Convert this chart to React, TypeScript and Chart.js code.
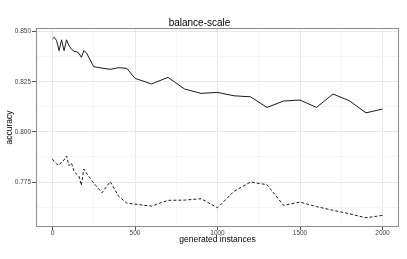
import React, { useEffect, useRef } from "react";
import { Chart, registerables } from "chart.js";

Chart.register(...registerables);

const chartTitle = "balance-scale";
const xTitle = "generated instances";
const yTitle = "accuracy";

const instances = [
  0, 10, 25, 40, 55, 70, 85, 100, 115, 130, 145, 160, 175, 190, 205, 250, 300, 350, 400, 450, 500,
  600, 700, 800, 900, 1000, 1100, 1200, 1300, 1400, 1500, 1600, 1700, 1800, 1900, 2000,
];

const solidSeries = [
  0.8464, 0.8472, 0.8455, 0.8405, 0.8459, 0.8405, 0.8459, 0.843, 0.8412, 0.8402, 0.84, 0.8392,
  0.8372, 0.8405, 0.8395, 0.8325, 0.8318, 0.8312, 0.832, 0.8317, 0.8267, 0.8239, 0.8272, 0.8214,
  0.8192, 0.8197, 0.818, 0.8175, 0.8122, 0.8154, 0.8159, 0.8122, 0.8189, 0.8155, 0.8095, 0.8114,
];

const dashedSeries = [
  0.7864, 0.7852, 0.784, 0.7834, 0.785, 0.786, 0.788, 0.7832, 0.7845, 0.7805, 0.779, 0.778, 0.7734,
  0.7815, 0.7795, 0.7745, 0.7697, 0.7752, 0.768, 0.7645, 0.764, 0.763, 0.7659, 0.766, 0.7667,
  0.7622, 0.7704, 0.775, 0.7737, 0.7634, 0.765, 0.7628, 0.7609, 0.7592, 0.7572, 0.7584,
];

const xMajorTicks = [0, 500, 1000, 1500, 2000];
const xMinorTicks = [250, 750, 1250, 1750];
const yMajorTicks = [0.775, 0.8, 0.825, 0.85];
const yMinorTicks = [0.7625, 0.7875, 0.8125, 0.8375];

const FONT = "'Liberation Sans', Arial, Helvetica, sans-serif";

export default function App() {
  const ref = useRef<HTMLCanvasElement | null>(null);

  useEffect(() => {
    if (!ref.current) return;
    const xMajorSet = new Set(xMajorTicks);
    const yMajorSet = new Set(yMajorTicks);

    const panelBorder = {
      id: "panelBorder",
      afterDatasetsDraw(chart: any) {
        const { ctx, chartArea } = chart;
        ctx.save();
        ctx.strokeStyle = "#8c8c8c";
        ctx.lineWidth = 1;
        ctx.strokeRect(
          Math.round(chartArea.left) + 0.5,
          Math.round(chartArea.top) + 0.5,
          Math.round(chartArea.right - chartArea.left) - 1,
          Math.round(chartArea.bottom - chartArea.top) - 1
        );
        ctx.restore();
      },
    };

    const chart = new Chart(ref.current, {
      type: "line",
      data: {
        datasets: [
          {
            data: instances.map((x, i) => ({ x, y: solidSeries[i] })),
            borderColor: "#1a1a1a",
            borderWidth: 1,
            pointRadius: 0,
            tension: 0,
            fill: false,
          },
          {
            data: instances.map((x, i) => ({ x, y: dashedSeries[i] })),
            borderColor: "#1a1a1a",
            borderWidth: 1,
            borderDash: [3, 2],
            pointRadius: 0,
            tension: 0,
            fill: false,
          },
        ],
      },
      options: {
        animation: false,
        responsive: false,
        devicePixelRatio: 1,
        layout: { padding: { left: 0, right: 8, top: 0, bottom: 0 } },
        plugins: {
          legend: { display: false },
          tooltip: { enabled: false },
          title: {
            display: true,
            text: chartTitle,
            color: "#000",
            font: { family: FONT, size: 10, weight: "normal", lineHeight: 1 },
            padding: { top: 18, bottom: 0 },
          },
        },
        scales: {
          x: {
            type: "linear",
            min: -100,
            max: 2100,
            afterBuildTicks(scale: any) {
              scale.ticks = [...xMajorTicks, ...xMinorTicks]
                .sort((a, b) => a - b)
                .map((v) => ({ value: v }));
            },
            afterFit(scale: any) {
              scale.height = 32;
            },
            ticks: {
              autoSkip: false,
              maxRotation: 0,
              padding: -1,
              color: "#444",
              font: { family: FONT, size: 6.5 },
              callback: (v: any) => (xMajorSet.has(Number(v)) ? String(v) : ""),
            },
            grid: {
              color: (c: any) => (xMajorSet.has(c.tick?.value) ? "#e8e8e8" : "#f5f5f5"),
              tickColor: (c: any) => (xMajorSet.has(c.tick?.value) ? "#555" : "rgba(0,0,0,0)"),
              tickLength: 3,
              lineWidth: 1,
            },
            border: { display: false },
            title: {
              display: true,
              text: xTitle,
              color: "#000",
              font: { family: FONT, size: 8.5 },
              padding: { top: 0, bottom: 14.4 },
            },
          },
          y: {
            type: "linear",
            min: 0.7526,
            max: 0.8518,
            afterBuildTicks(scale: any) {
              scale.ticks = [...yMajorTicks, ...yMinorTicks]
                .sort((a, b) => a - b)
                .map((v) => ({ value: v }));
            },
            afterFit(scale: any) {
              scale.width = 36;
            },
            ticks: {
              autoSkip: false,
              padding: 1,
              color: "#444",
              font: { family: FONT, size: 6.5 },
              callback: (v: any) => (yMajorSet.has(Number(v)) ? Number(v).toFixed(3) : ""),
            },
            grid: {
              color: (c: any) => (yMajorSet.has(c.tick?.value) ? "#e8e8e8" : "#f5f5f5"),
              tickColor: (c: any) => (yMajorSet.has(c.tick?.value) ? "#555" : "rgba(0,0,0,0)"),
              tickLength: 4,
              lineWidth: 1,
            },
            border: { display: false },
            title: {
              display: true,
              text: yTitle,
              color: "#000",
              font: { family: FONT, size: 8.5 },
              padding: { top: 5, bottom: 0 },
            },
          },
        },
      },
      plugins: [panelBorder],
    } as any);

    return () => chart.destroy();
  }, []);

  return (
    <div style={{ position: "absolute", left: 0, top: 0, width: 407, height: 259, background: "#fff" }}>
      <canvas ref={ref} width={407} height={259} style={{ width: 407, height: 259, display: "block" }} />
    </div>
  );
}
